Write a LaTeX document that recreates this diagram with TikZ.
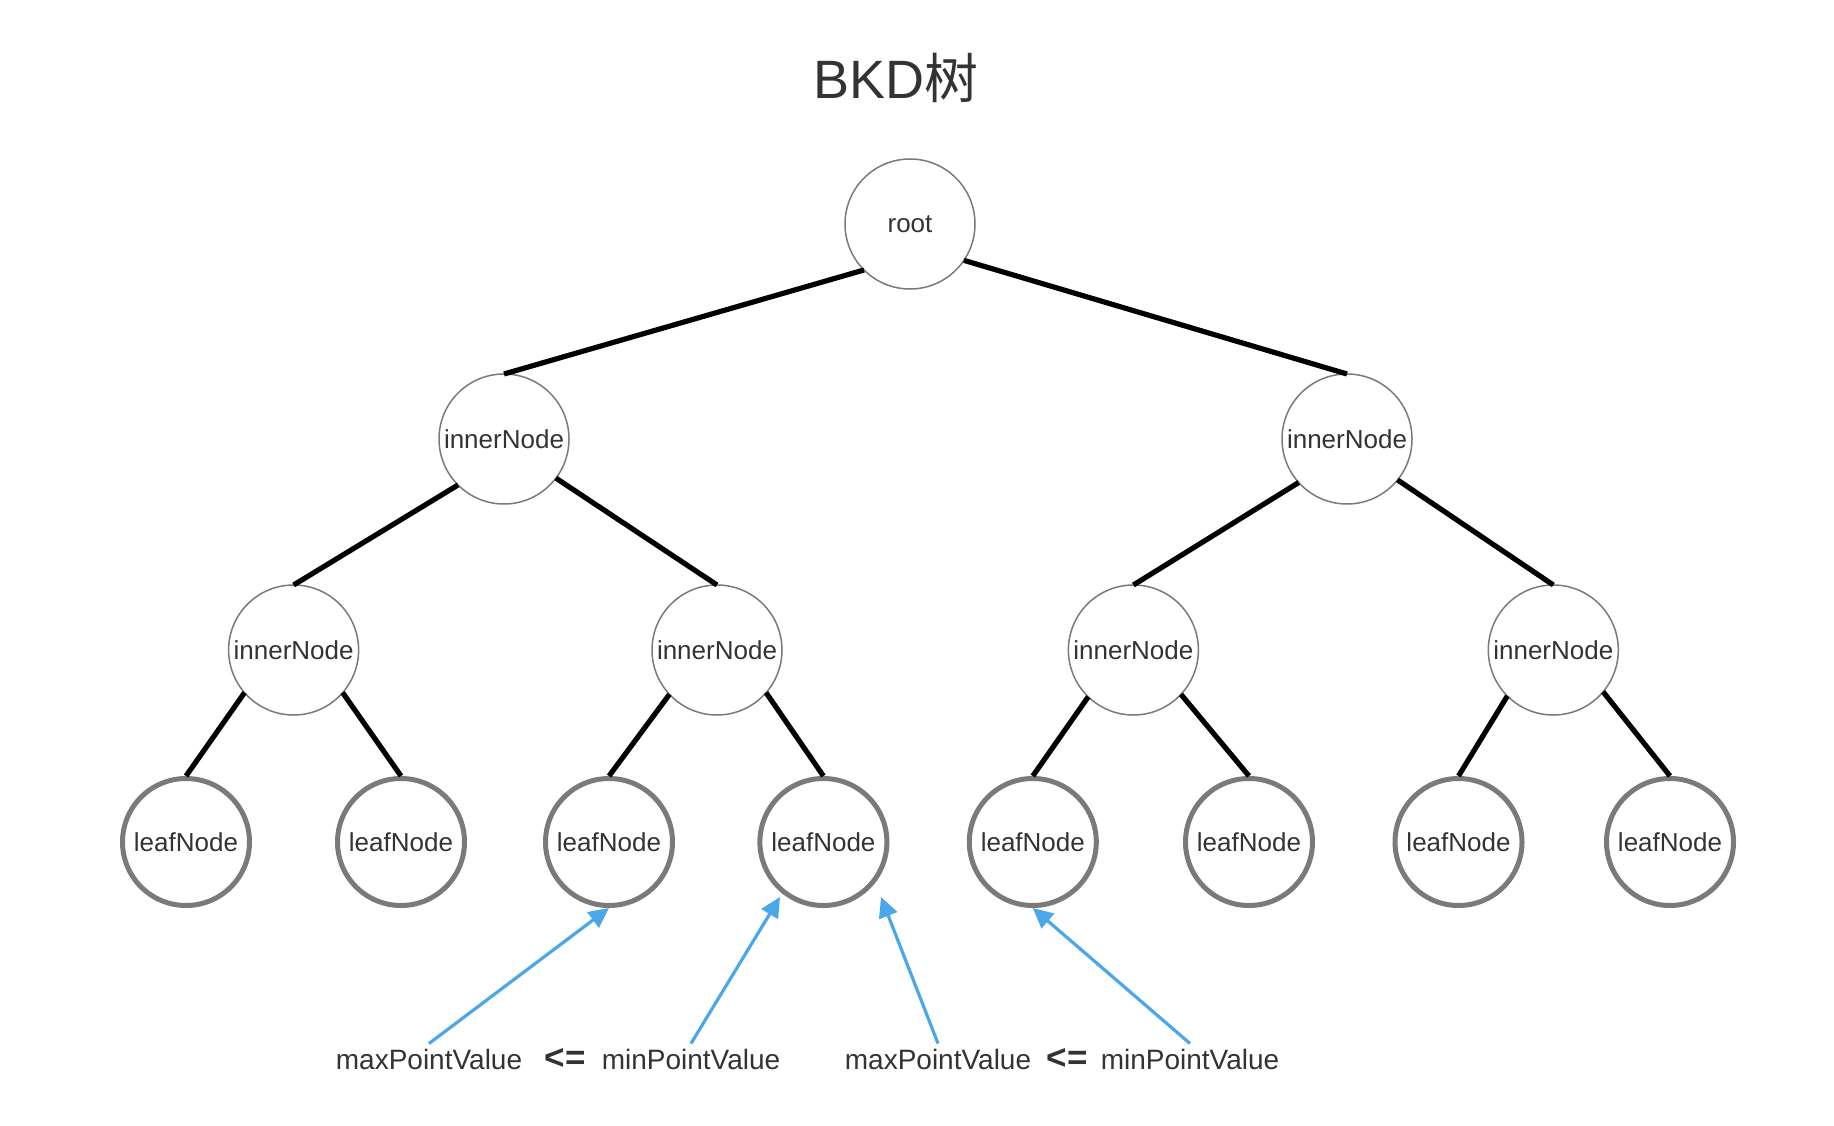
\documentclass[tikz,border=0pt]{standalone}
\usepackage{fontspec}
\setmainfont{Liberation Sans}
\newfontfamily\cjkfont{Noto Sans CJK SC}
\usetikzlibrary{arrows.meta}
\definecolor{txt}{HTML}{333333}
\definecolor{ring}{HTML}{7A7A7A}
\definecolor{arrowblue}{HTML}{4AA8EA}
\begin{document}
\begin{tikzpicture}[x=1pt,y=-1pt,
 every node/.style={text=txt, font=\fontsize{26}{30}\selectfont},
 inner/.style={circle, draw=ring, line width=1.5pt, minimum size=130pt, inner sep=0pt, outer sep=0pt, fill=white},
 leaf/.style={circle, draw=ring, line width=5pt, minimum size=127pt, inner sep=0pt, fill=white},
 edge/.style={line width=5.2pt, black},
 pointer/.style={draw=arrowblue, line width=3.2pt, -{Triangle[length=20pt,width=19pt,fill=arrowblue]}},
 lbl/.style={anchor=base, inner sep=5pt, font=\fontsize{28}{30}\selectfont},
 rel/.style={anchor=base, inner sep=5pt, font=\fontsize{35}{36}\selectfont\bfseries},
]
\useasboundingbox[fill=white] (0,0) rectangle (1834,1126);

\node[anchor=base, font=\fontsize{54}{60}\selectfont] (title) at (896,99) {BKD{\cjkfont 树}};

\node[inner] (root) at (910,224) {root};
\node[inner] (a) at (504,439) {innerNode};
\node[inner] (b) at (1347,439) {innerNode};
\node[inner] (a1) at (293.6,650) {innerNode};
\node[inner] (a2) at (717,650) {innerNode};
\node[inner] (b1) at (1133.4,650) {innerNode};
\node[inner] (b2) at (1553.3,650) {innerNode};
\node[leaf] (l1) at (186,842) {leafNode};
\node[leaf] (l2) at (401,842) {leafNode};
\node[leaf] (l3) at (609,842) {leafNode};
\node[leaf] (l4) at (823.4,842) {leafNode};
\node[leaf] (l5) at (1032.8,842) {leafNode};
\node[leaf] (l6) at (1249,842) {leafNode};
\node[leaf] (l7) at (1458.5,842) {leafNode};
\node[leaf] (l8) at (1670,842) {leafNode};

\draw[edge] (root.225) -- (a.north);
\draw[edge] (root.326) -- (b.north);
\draw[edge] (a.225) -- (a1.north);
\draw[edge] (a.323) -- (a2.north);
\draw[edge] (b.222) -- (b1.north);
\draw[edge] (b.321) -- (b2.north);
\draw[edge] (a1.221) -- (l1.north);
\draw[edge] (a1.319) -- (l2.north);
\draw[edge] (a2.223) -- (l3.north);
\draw[edge] (a2.319) -- (l4.north);
\draw[edge] (b1.226) -- (l5.north);
\draw[edge] (b1.317) -- (l6.north);
\draw[edge] (b2.225) -- (l7.north);
\draw[edge] (b2.320) -- (l8.north);

\node[lbl] (t1) at (429,1069) {maxPointValue};
\node[rel] (r1) at (565,1069) {<=};
\node[lbl] (t2) at (691,1069) {minPointValue};
\node[lbl] (t3) at (938,1069) {maxPointValue};
\node[rel] (r2) at (1067,1069) {<=};
\node[lbl] (t4) at (1190,1069) {minPointValue};

\coordinate (p2) at (780,897);
\coordinate (p3) at (881,897);
\draw[pointer] (t1.north) -- (l3.south);
\draw[pointer] (t2.north) -- (p2);
\draw[pointer] (t3.north) -- (p3);
\draw[pointer] (t4.north) -- (l5.south);
\end{tikzpicture}
\end{document}
